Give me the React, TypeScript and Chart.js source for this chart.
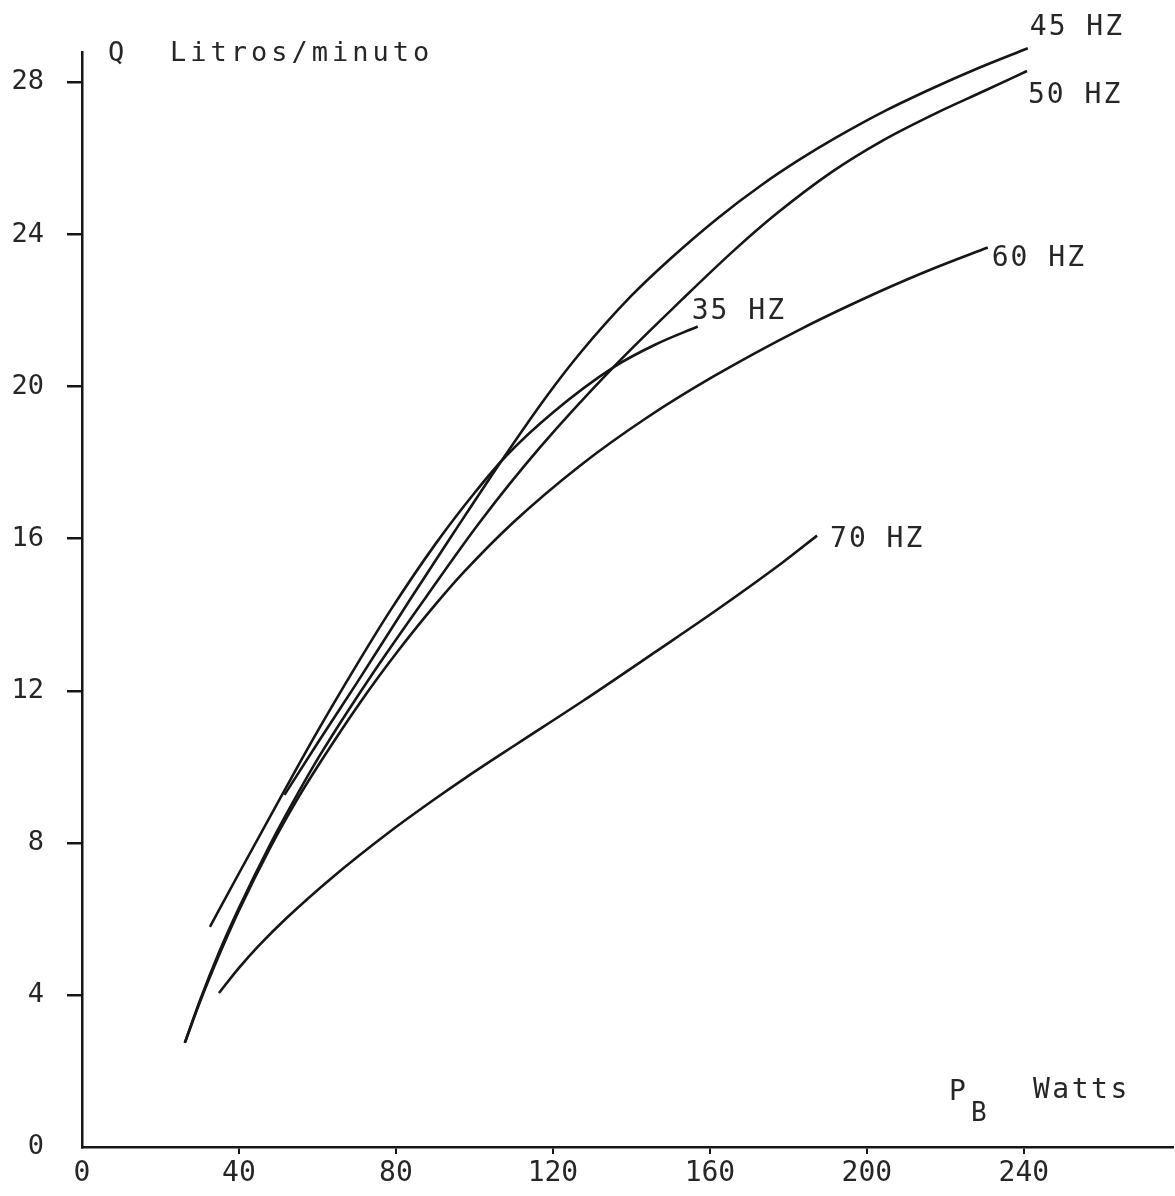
import React, { useEffect, useRef } from 'react';
import { Chart, registerables } from 'chart.js';

Chart.register(...registerables);

// ---- data (P_B in watts, Q in litres/minute) ----
const power35 = [32.6, 40, 51.6, 60, 70, 78.5, 90, 100, 108.3, 120, 135.3, 146, 156.9];
const flow35 = [5.79, 7.2, 9.38, 10.93, 12.68, 14.1, 15.85, 17.2, 18.2, 19.32, 20.5, 21.1, 21.58];

const power45 = [51.6, 60, 70, 83.6, 95, 108.3, 118.5, 127, 140, 150, 162, 173, 183, 192, 205, 217, 228, 241];
const flow45 = [9.26, 10.62, 12.2, 14.4, 16.2, 18.26, 19.76, 20.89, 22.39, 23.37, 24.43, 25.29, 25.98, 26.54, 27.27, 27.86, 28.36, 28.9];

const power50 = [26.2, 30, 35, 40, 47.9, 55, 60.6, 73.4, 87.9, 101.4, 116.7, 135.3, 153, 166, 177, 191, 204, 217, 230, 240.8];
const flow50 = [2.74, 3.84, 5.14, 6.29, 7.95, 9.3, 10.3, 12.35, 14.5, 16.44, 18.4, 20.5, 22.3, 23.57, 24.55, 25.64, 26.47, 27.16, 27.78, 28.3];

const power60 = [26.2, 30, 35, 40, 47.9, 55, 60.6, 70.8, 81, 90.4, 97.1, 109.8, 126.9, 143.9, 160.8, 182.9, 204.1, 216.8, 230.8];
const flow60 = [2.74, 3.8, 5.06, 6.22, 7.86, 9.17, 10.1, 11.68, 13.11, 14.31, 15.1, 16.42, 17.92, 19.18, 20.26, 21.5, 22.54, 23.1, 23.66];

const power70 = [34.9, 40, 45, 52, 64, 78, 90, 98, 110.8, 127.6, 146.5, 161.8, 178.6, 187.3];
const flow70 = [4.05, 4.71, 5.29, 6.01, 7.11, 8.26, 9.16, 9.73, 10.6, 11.73, 13.05, 14.13, 15.38, 16.08];

const seriesNames = ['35 HZ', '45 HZ', '50 HZ', '60 HZ', '70 HZ'];
const seriesPower = [power35, power45, power50, power60, power70];
const seriesFlow = [flow35, flow45, flow50, flow60, flow70];

const xTickValues = [0, 40, 80, 120, 160, 200, 240];
const yTickValues = [0, 4, 8, 12, 16, 20, 24, 28];

const yAxisSymbol = 'Q';
const yAxisUnit = 'Litros/minuto';
const xAxisSymbol = 'P';
const xAxisSubscript = 'B';
const xAxisUnit = 'Watts';

// ---- styling ----
const FONT = '"DejaVu Sans Mono", monospace';
const INK = '#161616';
const TEXT = '#262626';
const labelOffsets: [number, number][] = [
  [-6, -15],
  [2, -20],
  [1, 25],
  [4, 11],
  [13, 4],
];

const textPlugin = {
  id: 'handLabels',
  afterDatasetsDraw(chart: any) {
    const { ctx, chartArea, scales } = chart;
    const xs = scales.x;
    const ys = scales.y;
    ctx.save();
    ctx.fillStyle = TEXT;
    ctx.textBaseline = 'middle';
    ctx.textAlign = 'left';

    // curve labels at the end of each curve
    ctx.font = `28px ${FONT}`;
    (ctx as any).letterSpacing = '2px';
    seriesNames.forEach((name, i) => {
      const p = seriesPower[i];
      const q = seriesFlow[i];
      const px = xs.getPixelForValue(p[p.length - 1]);
      const py = ys.getPixelForValue(q[q.length - 1]);
      ctx.fillText(name, px + labelOffsets[i][0], py + labelOffsets[i][1]);
    });

    // y axis title
    ctx.font = `27px ${FONT}`;
    (ctx as any).letterSpacing = '4px';
    ctx.fillText(yAxisSymbol, chartArea.left + 26, chartArea.top + 2);
    ctx.fillText(yAxisUnit, chartArea.left + 88, chartArea.top + 2);

    // x axis title
    ctx.font = `28px ${FONT}`;
    (ctx as any).letterSpacing = '2.5px';
    ctx.fillText(xAxisSymbol, chartArea.right - 224, chartArea.bottom - 54);
    ctx.fillText(xAxisUnit, chartArea.right - 140, chartArea.bottom - 56);
    ctx.font = `26px ${FONT}`;
    ctx.fillText(xAxisSubscript, chartArea.right - 202, chartArea.bottom - 33);
    (ctx as any).letterSpacing = '0px';
    ctx.restore();
  },
};

export default function App() {
  const canvasRef = useRef<HTMLCanvasElement | null>(null);

  useEffect(() => {
    if (!canvasRef.current) return;
    const tickColor = (c: any) =>
      c.tick && c.tick.value === 0 ? 'rgba(0,0,0,0)' : INK;

    const datasets = seriesNames.map((name, i) => ({
      label: name,
      data: seriesPower[i].map((p, j) => ({ x: p, y: seriesFlow[i][j] })),
      borderColor: INK,
      backgroundColor: INK,
      borderWidth: 2.6,
      pointRadius: 0,
      fill: false,
      cubicInterpolationMode: 'monotone' as const,
      clip: false as any,
    }));

    const chart = new Chart(canvasRef.current, {
      type: 'line',
      data: { datasets },
      options: {
        responsive: false,
        animation: false,
        devicePixelRatio: 1,
        layout: { padding: { left: 0, top: 52, right: 2, bottom: 0 } },
        plugins: {
          legend: { display: false },
          tooltip: { enabled: false },
        },
        scales: {
          x: {
            type: 'linear',
            min: 0,
            max: 278,
            afterBuildTicks: (scale: any) => {
              scale.ticks = xTickValues.map((v) => ({ value: v }));
            },
            afterFit: (scale: any) => {
              scale.height = 49;
            },
            border: { display: true, color: INK, width: 2.5 },
            grid: {
              drawOnChartArea: false,
              drawTicks: true,
              tickLength: 7,
              lineWidth: 2,
              color: tickColor,
            },
            ticks: {
              font: { family: FONT, size: 28 },
              color: TEXT,
              padding: 3,
              maxRotation: 0,
              autoSkip: false,
            },
          },
          y: {
            type: 'linear',
            min: 0,
            max: 28.8,
            afterBuildTicks: (scale: any) => {
              scale.ticks = yTickValues.map((v) => ({ value: v }));
            },
            afterFit: (scale: any) => {
              scale.width = 82;
            },
            border: { display: true, color: INK, width: 2.5 },
            grid: {
              drawOnChartArea: false,
              drawTicks: true,
              tickLength: 15,
              lineWidth: 2.5,
              color: tickColor,
            },
            ticks: {
              font: { family: FONT, size: 27 },
              color: TEXT,
              padding: 23,
              autoSkip: false,
            },
          },
        },
      },
      plugins: [textPlugin],
    });

    return () => chart.destroy();
  }, []);

  return (
    <div style={{ position: 'absolute', left: 0, top: 0, width: 1175, height: 1196, background: '#fff' }}>
      <canvas ref={canvasRef} width={1175} height={1196} style={{ display: 'block' }} />
    </div>
  );
}
